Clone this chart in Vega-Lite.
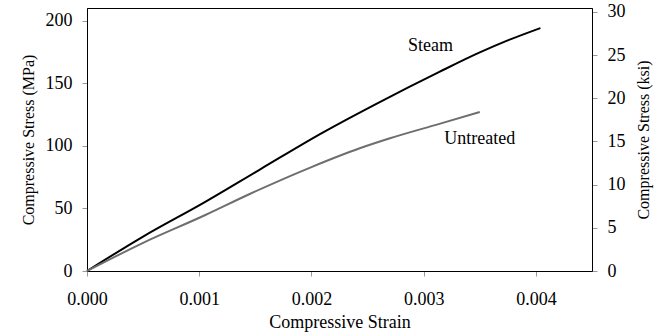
{
  "$schema": "https://vega.github.io/schema/vega-lite/v6.json",
  "width": 505,
  "height": 263,
  "autosize": {"type": "none"},
  "padding": {"left": 87, "top": 8, "right": 76, "bottom": 64},
  "background": "white",
  "config": {
    "font": "Liberation Serif",
    "view": {"stroke": "#000", "strokeWidth": 1},
    "axis": {
      "grid": false,
      "domainColor": "#000",
      "tickColor": "#999",
      "tickSize": 5,
      "labelFontSize": 18,
      "titleFontSize": 16,
      "titleFontWeight": "normal",
      "labelColor": "#000",
      "titleColor": "#000",
      "labelFont": "Liberation Serif",
      "titleFont": "Liberation Serif",
      "labelFlush": false
    }
  },
  "datasets": {
    "curves": [
      {"series": "Steam", "strain": 0, "stress": 0},
      {"series": "Steam", "strain": 0.0005, "stress": 27.5},
      {"series": "Steam", "strain": 0.00105, "stress": 55},
      {"series": "Steam", "strain": 0.00154, "stress": 81},
      {"series": "Steam", "strain": 0.0021, "stress": 110.5},
      {"series": "Steam", "strain": 0.0026, "stress": 134.5},
      {"series": "Steam", "strain": 0.00314, "stress": 159},
      {"series": "Steam", "strain": 0.0035, "stress": 174.5},
      {"series": "Steam", "strain": 0.00376, "stress": 184.5},
      {"series": "Steam", "strain": 0.00404, "stress": 194},
      {"series": "Untreated", "strain": 0, "stress": 0},
      {"series": "Untreated", "strain": 0.0005, "stress": 22.5},
      {"series": "Untreated", "strain": 0.00105, "stress": 44.5},
      {"series": "Untreated", "strain": 0.00145, "stress": 61.5},
      {"series": "Untreated", "strain": 0.002, "stress": 83},
      {"series": "Untreated", "strain": 0.00243, "stress": 98},
      {"series": "Untreated", "strain": 0.0027, "stress": 106},
      {"series": "Untreated", "strain": 0.00314, "stress": 117.5},
      {"series": "Untreated", "strain": 0.0035, "stress": 127}
    ],
    "labels": [
      {"label": "Steam", "strain": 0.00306, "stress": 180},
      {"label": "Untreated", "strain": 0.0035, "stress": 105.5}
    ]
  },
  "layer": [
    {
      "data": {"name": "curves"},
      "mark": {"type": "line", "strokeWidth": 2, "interpolate": "monotone"},
      "encoding": {
        "x": {
          "field": "strain", "type": "quantitative",
          "scale": {"domain": [0, 0.0045], "nice": false},
          "axis": {"title": "Compressive Strain", "titleFontSize": 18, "values": [0, 0.001, 0.002, 0.003, 0.004], "format": ".3f", "labelPadding": 14, "titlePadding": 5}
        },
        "y": {
          "field": "stress", "type": "quantitative",
          "scale": {"domain": [0, 210], "nice": false},
          "axis": {"title": "Compressive Stress (MPa)", "values": [0, 50, 100, 150, 200], "labelPadding": 10, "titlePadding": 9}
        },
        "color": {
          "field": "series", "type": "nominal",
          "scale": {"domain": ["Steam", "Untreated"], "range": ["#000000", "#6e6e6e"]},
          "legend": null
        }
      }
    },
    {
      "data": {"name": "labels"},
      "mark": {"type": "text", "fontSize": 18, "font": "Liberation Serif", "align": "center", "baseline": "middle", "color": "#000"},
      "encoding": {
        "x": {"field": "strain", "type": "quantitative"},
        "y": {
          "field": "stress", "type": "quantitative",
          "scale": {"domain": [0, 210], "nice": false},
          "axis": {
            "orient": "right",
            "title": "Compressive Stress (ksi)",
            "titleAngle": 270,
            "titleBaseline": "top",
            "values": [0, 34.4738, 68.9476, 103.4214, 137.8952, 172.369, 206.8428],
            "labelExpr": "format(datum.value / 6.89476, '.0f')",
            "labelPadding": 10,
            "titlePadding": 10
          }
        },
        "text": {"field": "label"}
      }
    }
  ],
  "resolve": {"scale": {"y": "independent"}}
}
